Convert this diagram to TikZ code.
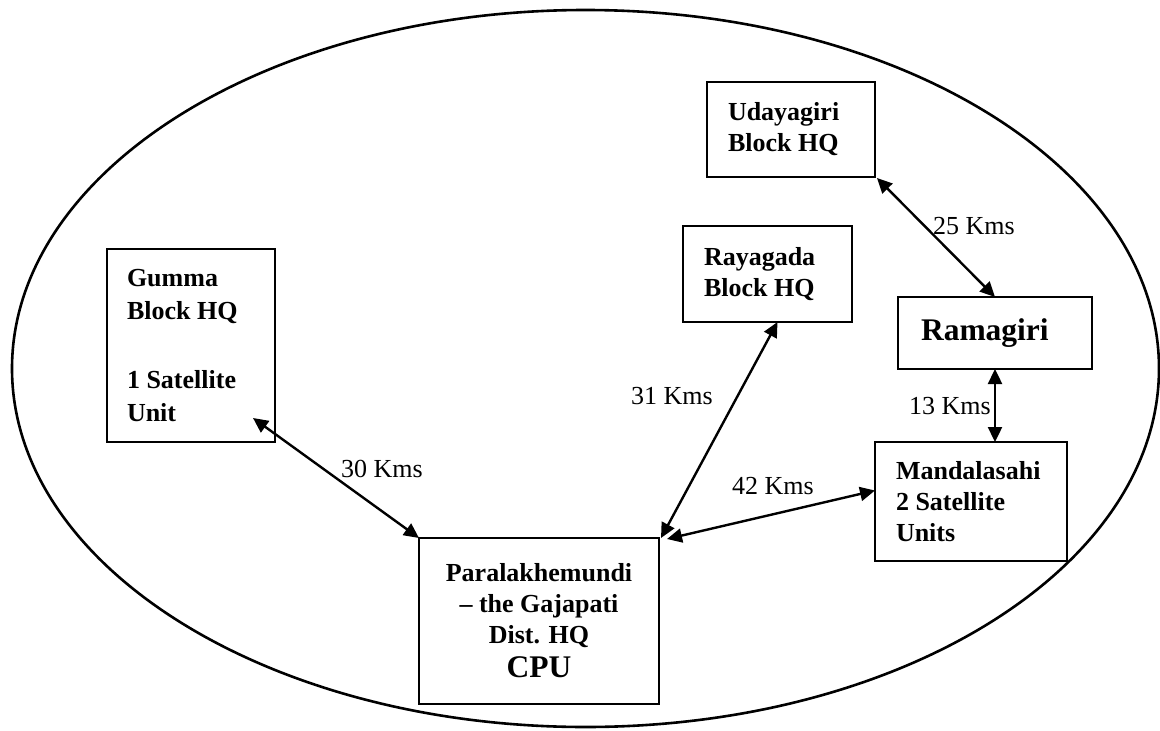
\documentclass[tikz,border=0pt]{standalone}
\usepackage{fontspec}
\setmainfont{Liberation Serif}
\usetikzlibrary{arrows.meta,calc}
\begin{document}
\begin{tikzpicture}[x=1pt,y=-1pt,
  box/.style={draw,line width=2.5pt,rectangle,inner sep=0pt,outer sep=0pt,
    font=\bfseries\fontsize{26}{31}\selectfont,align=flush left},
  link/.style={line width=2.4pt,{Triangle[length=15pt,width=14pt]}-{Triangle[length=15pt,width=14pt]}},
  dist/.style={font=\fontsize{26}{31}\selectfont,inner sep=0pt}]
\useasboundingbox (0,0) rectangle (1160,731);
\draw[line width=2.6pt] (585.5,368.5) ellipse [x radius=573.5pt, y radius=358.5pt];

\node[box, minimum width=168pt, minimum height=95pt, text width=126pt] (u) at (791,129.5) {Udayagiri\\Block HQ};
\node[box, minimum width=169pt, minimum height=96pt, text width=127pt] (ry) at (767.5,274) {Rayagada\\Block HQ};
\node[box, minimum width=168pt, minimum height=193pt, text width=128pt, font=\bfseries\fontsize{26}{33}\selectfont] (g) at (191,345.5) {Gumma\\Block HQ\\[36pt]1 Satellite\\Unit};
\node[box, minimum width=194pt, minimum height=72pt, text width=148pt, font=\bfseries\fontsize{31.5}{37}\selectfont] (r) at (995,333) {Ramagiri};
\node[box, minimum width=192pt, minimum height=119pt, text width=150pt] (m) at (971,501.5) {Mandalasahi\\2 Satellite\\Units};
\node[box, minimum width=240pt, minimum height=166pt, align=flush center] (p) at (539,621) {Paralakhemundi\\– the Gajapati\\Dist. HQ\\[3pt]{\fontsize{31.5}{37}\selectfont CPU}};

\draw[link] ($(g.south east)+(-22,-24)$) -- (p.north west);
\draw[link] ($(ry.south)+(10,0)$) -- ($(p.north east)+(2,0)$);
\draw[link] ($(p.north east)+(8,1)$) -- ($(m.west)+(0,-11)$);
\draw[link] ($(u.south east)+(2,1)$) -- (r.north);
\draw[link] (r.south) -- (r.south |- m.north);

\node[dist] (l30) at (382,469) {30 Kms};
\node[dist] (l31) at (672,396) {31 Kms};
\node[dist] (l42) at (773,486) {42 Kms};
\node[dist] (l25) at (974,226) {25 Kms};
\node[dist] (l13) at (950,406) {13 Kms};
\end{tikzpicture}
\end{document}
